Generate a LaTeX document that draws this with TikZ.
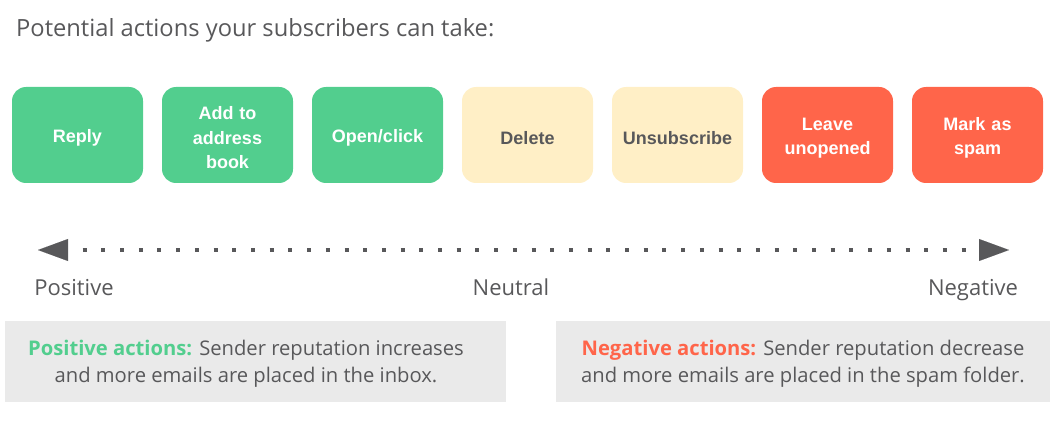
\documentclass[tikz,border=0pt]{standalone}
\usepackage{fontspec}
\setmainfont{Open Sans}
\newfontfamily\boxfont{Liberation Sans}
\usetikzlibrary{arrows.meta}
\definecolor{grn}{HTML}{52CE8E}
\definecolor{yel}{HTML}{FFEFC6}
\definecolor{rd}{HTML}{FF654A}
\definecolor{txt}{HTML}{58585A}
\definecolor{gbox}{HTML}{EAEAEA}
\begin{document}
\begin{tikzpicture}[x=1pt,y=-1pt,
  act/.style={rounded corners=14pt, minimum width=131pt, minimum height=96pt, inner sep=0pt},
  acttext/.style={inner sep=0pt, align=center, text width=125pt, yshift=-3pt,
    font=\boxfont\fontsize{18}{24.5}\selectfont\bfseries},
  posact/.style={act, fill=grn},
  neuact/.style={act, fill=yel},
  negact/.style={act, fill=rd},
  axlabel/.style={anchor=base, text=txt, font=\fontsize{22}{24}\selectfont, inner sep=0pt},
  sumtext/.style={align=center, text=txt, inner sep=0pt, font=\fontsize{20.2}{26.5}\selectfont},
  dotline/.style={draw=txt, line width=4pt, dash pattern=on 4pt off 14.7pt, dash phase=4pt,
    {Triangle[length=30pt,width=22pt,line width=0.01pt]}-{Triangle[length=30pt,width=22pt,line width=0.01pt]}}
]
\useasboundingbox (0,0) rectangle (1057,422);
\node[anchor=base west, inner sep=0pt, text=txt, font=\fontsize{23.7}{26}\selectfont] (title) at (16,37) {Potential actions your subscribers can take:};

\node[posact, label={[acttext, text=white]center:Reply}] (reply) at (77.5,135) {};
\node[posact, label={[acttext, text=white]center:Add to\\address\\book}] (addr) at (227.5,135) {};
\node[posact, label={[acttext, text=white]center:Open/click}] (open) at (377.5,135) {};
\node[neuact, label={[acttext, text=txt]center:Delete}] (del) at (527.5,135) {};
\node[neuact, label={[acttext, text=txt]center:Unsubscribe}] (unsub) at (677.5,135) {};
\node[negact, label={[acttext, text=white]center:Leave\\unopened}] (leave) at (827.5,135) {};
\node[negact, label={[acttext, text=white]center:Mark as\\spam}] (spam) at (977.5,135) {};

\coordinate (lt) at (38,250);
\coordinate (rt) at (1009,250);
\draw[dotline] (lt) -- (rt);

\node[axlabel] (positive) at (74,295) {Positive};
\node[axlabel] (neutral) at (511,295) {Neutral};
\node[axlabel] (negative) at (973,295) {Negative};

\path[fill=gbox] (5,321) rectangle (506,402);
\path[fill=gbox] (556,321) rectangle (1050,402);
\node[sumtext] (postext) at (246,364) {{\bfseries\color{grn}Positive actions:} Sender reputation increases\\and more emails are placed in the inbox.};
\node[sumtext] (negtext) at (803,364) {{\bfseries\color{rd}Negative actions:} Sender reputation decrease\\and more emails are placed in the spam folder.};
\end{tikzpicture}
\end{document}
